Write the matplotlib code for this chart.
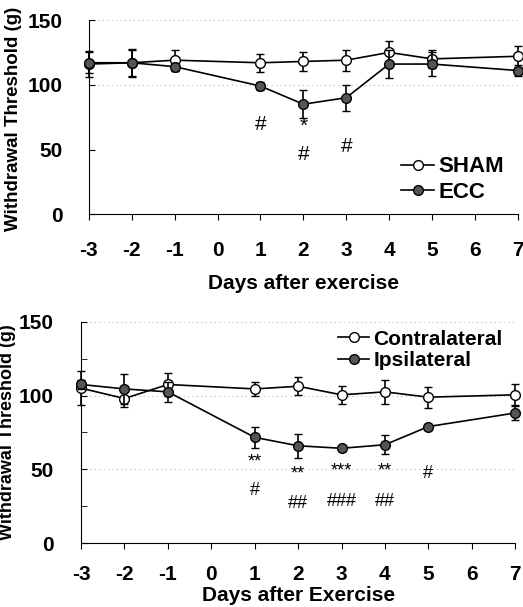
import matplotlib
matplotlib.use('Agg')
import matplotlib.pyplot as plt
from matplotlib.lines import Line2D

plt.rcParams['font.family'] = ['Liberation Sans', 'DejaVu Sans']
plt.rcParams['font.weight'] = 'bold'

dias = [-3, -2, -1, 1, 2, 3, 4, 5, 7]
dias_ticks = [-3, -2, -1, 0, 1, 2, 3, 4, 5, 6, 7]

# painel de cima
sham = [116, 117, 119, 117, 118, 119, 125, 120, 122]
sham_err = [10, 10, 8, 7, 7, 8, 9, 7, 8]
ecc = [117, 117, 114, 99, 85, 90, 116, 116, 111]
ecc_err = [8, 11, 3, 3, 11, 10, 11, 9, 4]
sig_top_x = [1, 2, 2, 3]
sig_top_y = [69, 68, 46, 52]
sig_top_txt = ['#', '*', '#', '#']

# painel de baixo
contra = [105, 98, 107.5, 104.5, 106.3, 100.5, 102.5, 98.9, 100.5]
contra_err = [11.5, 6, 7.5, 5, 6, 6, 8, 7, 7]
ipsi = [107.5, 104.5, 102.5, 71.7, 66, 64.3, 66.7, 79, 88.2]
ipsi_err = [3, 10, 7, 7, 8, 2, 6.5, 2, 5]
sig_bot_x = [1, 1, 2, 2, 3, 3, 4, 4, 5]
sig_bot_y = [55, 36, 47, 27, 49, 28, 49, 28, 47]
sig_bot_txt = ['**', '#', '**', '##', '***', '###', '**', '##', '#']


def painel(ax, y1, e1, y2, e2, nomes, grades):
    for g in grades:
        ax.axhline(g, color='#bbbbbb', lw=0.8, ls=(0, (1, 3)), zorder=0)
    ax.errorbar(dias, y1, yerr=e1, color='black', lw=1.2, capsize=3, capthick=1,
                marker='o', ms=7, mfc='white', mec='black', mew=1,
                clip_on=False, zorder=3)
    ax.errorbar(dias, y2, yerr=e2, color='black', lw=1.2, capsize=3, capthick=1,
                marker='o', ms=7, mfc='#555555', mec='black', mew=1,
                clip_on=False, zorder=4)
    ax.set_xlim(-3, 7)
    ax.set_ylim(0, 150)
    ax.set_xticks(dias_ticks)
    ax.set_xticklabels([str(d) for d in dias_ticks])
    ax.set_yticks([0, 50, 100, 150])
    for s in ['top', 'right']:
        ax.spines[s].set_visible(False)
    handles = [Line2D([], [], color='black', lw=1.2, marker='o', ms=7, mfc='white', mec='black'),
               Line2D([], [], color='black', lw=1.2, marker='o', ms=7, mfc='#555555', mec='black')]
    return handles, nomes


fig = plt.figure(figsize=(5.23, 6.07), dpi=100)

ax1 = fig.add_axes([0.170, 0.647, 0.820, 0.320])
h, n = painel(ax1, sham, sham_err, ecc, ecc_err, ['SHAM', 'ECC'], [100, 150])
ax1.tick_params(axis='x', direction='out', length=4, pad=15, labelsize=15)
ax1.tick_params(axis='y', direction='in', length=4, pad=19, labelsize=15)
ax1.set_xlabel('Days after exercise', fontsize=15, fontweight='bold', labelpad=10)
ax1.set_ylabel('Withdrawal Threshold (g)', fontsize=13.5, fontweight='bold')
ax1.yaxis.set_label_coords(-0.156, 0.49)
for x, y, t in zip(sig_top_x, sig_top_y, sig_top_txt):
    ax1.text(x, y, t, ha='center', va='center', fontsize=15, fontweight='normal')
ax1.legend(h, n, loc='lower right', bbox_to_anchor=(1.0, -0.01), frameon=False, fontsize=16,
           handlelength=1.5, handletextpad=0.2, labelspacing=0.2, borderpad=0.1)

ax2 = fig.add_axes([0.155, 0.105, 0.830, 0.365])
h, n = painel(ax2, contra, contra_err, ipsi, ipsi_err, ['Contralateral', 'Ipsilateral'], [50, 100, 150])
ax2.set_yticks([25, 75, 125], minor=True)
ax2.tick_params(axis='x', direction='out', length=4, pad=12, labelsize=15)
ax2.tick_params(axis='y', which='both', direction='in', length=4, pad=20, labelsize=15)
ax2.set_xlabel('Days after Exercise', fontsize=15, fontweight='bold', labelpad=1)
ax2.set_ylabel('Withdrawal Threshold (g)', fontsize=13, fontweight='bold')
ax2.yaxis.set_label_coords(-0.15, 0.5)
for x, y, t in zip(sig_bot_x, sig_bot_y, sig_bot_txt):
    ax2.text(x, y, t, ha='center', va='center', fontsize=13, fontweight='normal')
ax2.legend(h, n, loc='upper right', bbox_to_anchor=(1.0, 1.02), frameon=False, fontsize=15,
           handlelength=1.5, handletextpad=0.2, labelspacing=0.1, borderpad=0.1)

fig.savefig('out.png', dpi=100)
